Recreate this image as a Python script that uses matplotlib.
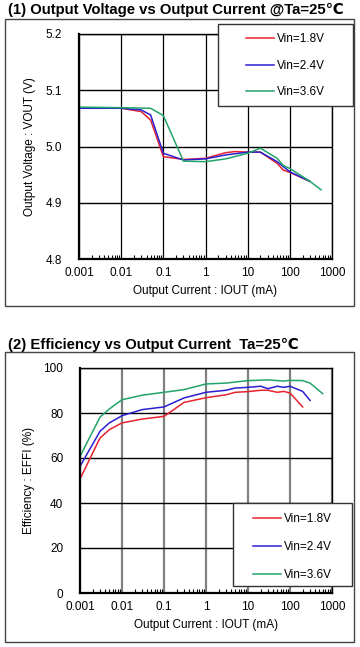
import matplotlib
matplotlib.use("Agg")
import matplotlib.pyplot as plt
from matplotlib.patches import Rectangle
from matplotlib.ticker import FixedLocator, LogLocator, NullFormatter

plt.rcParams['font.family'] = ['Liberation Sans', 'DejaVu Sans']

# data
series_names = ["Vin=1.8V", "Vin=2.4V", "Vin=3.6V"]
series_colors = ["#e8232f", "#2a1fd0", "#22a36a"]

vout_i_18 = [0.001, 0.01, 0.03, 0.05, 0.1, 0.3, 1, 3, 5, 10, 20, 50, 70, 100, 300]
vout_18 = [5.068, 5.068, 5.062, 5.047, 4.982, 4.977, 4.979, 4.989, 4.991, 4.990, 4.990, 4.970, 4.958, 4.954, 4.938]
vout_i_24 = [0.001, 0.01, 0.03, 0.05, 0.1, 0.3, 1, 3, 10, 20, 50, 100, 300]
vout_24 = [5.068, 5.068, 5.065, 5.056, 4.988, 4.976, 4.978, 4.985, 4.990, 4.990, 4.973, 4.955, 4.938]
vout_i_36 = [0.001, 0.01, 0.05, 0.1, 0.3, 1, 3, 10, 20, 50, 70, 100, 300, 550]
vout_36 = [5.070, 5.069, 5.068, 5.055, 4.974, 4.973, 4.978, 4.988, 4.997, 4.979, 4.966, 4.961, 4.938, 4.923]

eff_i_18 = [0.001, 0.003, 0.005, 0.01, 0.03, 0.1, 0.3, 1, 3, 5, 10, 20, 30, 50, 70, 100, 200]
eff_18 = [50.7, 68.9, 72.6, 75.6, 77.3, 78.5, 84.7, 86.8, 88.1, 89.2, 89.5, 90.1, 90.1, 89.2, 89.6, 88.9, 82.7]
eff_i_24 = [0.001, 0.003, 0.005, 0.01, 0.03, 0.1, 0.3, 1, 3, 5, 10, 20, 30, 50, 70, 100, 200, 300]
eff_24 = [56.3, 71.9, 75.6, 78.8, 81.5, 82.7, 86.7, 89.2, 90.1, 91.1, 91.4, 91.9, 90.8, 91.9, 91.4, 91.9, 89.6, 85.6]
eff_i_36 = [0.001, 0.003, 0.005, 0.01, 0.03, 0.1, 0.3, 1, 3, 10, 30, 70, 100, 200, 300, 600]
eff_36 = [60.7, 78.2, 81.8, 85.9, 87.9, 89.2, 90.4, 92.9, 93.3, 94.4, 94.7, 94.2, 94.5, 94.4, 93.3, 88.6]

x_ticks = [0.001, 0.01, 0.1, 1, 10, 100, 1000]
x_tick_labels = ["0.001", "0.01", "0.1", "1", "10", "100", "1000"]
vout_ticks = [4.8, 4.9, 5.0, 5.1, 5.2]
eff_ticks = [0, 20, 40, 60, 80, 100]

W, H = 360, 647
fig = plt.figure(figsize=(W / 100, H / 100), dpi=100)


def fx(px):
    return px / W


def fy(py):
    return 1 - py / H


def box(x0, y0, x1, y1, **kw):
    r = Rectangle((fx(x0), fy(y1)), fx(x1) - fx(x0), fy(y0) - fy(y1),
                  transform=fig.transFigure, **kw)
    fig.patches.append(r)
    return r


def setup_axes(ax, vgrid_color, vgrid_lw):
    ax.set_xscale("log")
    ax.set_xlim(0.001, 1000)
    ax.xaxis.set_major_locator(FixedLocator(x_ticks))
    ax.set_xticklabels(x_tick_labels)
    ax.xaxis.set_minor_locator(LogLocator(base=10, subs=range(2, 10), numticks=20))
    ax.xaxis.set_minor_formatter(NullFormatter())
    ax.tick_params(axis="x", which="minor", direction="in", length=3, width=0.8, color="black")
    ax.tick_params(axis="both", which="major", length=0, labelsize=8.5)
    ax.tick_params(axis="x", which="major", pad=6)
    ax.tick_params(axis="y", which="major", pad=12)
    ax.grid(True, axis="x", which="major", color=vgrid_color, lw=vgrid_lw)
    ax.grid(True, axis="y", which="major", color="black", lw=1.0)
    for s in ax.spines.values():
        s.set_color("black")
        s.set_linewidth(1.0)
    ax.spines["left"].set_linewidth(1.6)
    ax.spines["bottom"].set_linewidth(1.6)
    ax.set_xlabel("Output Current : IOUT (mA)", fontsize=8.5, labelpad=4)


def add_legend(ax, x0, y0, x1, y1, hx, hy, spacing):
    box(x0, y0, x1, y1, facecolor="white", edgecolor="#333333", lw=1.0, zorder=5)
    leg = fig.legend(handles=ax.get_lines(), labels=series_names, loc="upper left",
                     bbox_to_anchor=(fx(hx), fy(hy)), frameon=False, fontsize=8.5,
                     borderpad=0, handlelength=2.4, handletextpad=0.25, labelspacing=spacing)
    leg.set_zorder(6)


# outer frames
box(5, 19, 354, 306, fill=False, edgecolor="#444444", lw=1.0)
box(5, 352, 354, 642, fill=False, edgecolor="#444444", lw=1.0)

# (1) output voltage
ax1 = fig.add_axes([fx(79), fy(259), fx(332) - fx(79), fy(34) - fy(259)])
setup_axes(ax1, "black", 0.9)
ax1.plot(vout_i_18, vout_18, color=series_colors[0], lw=1.1)
ax1.plot(vout_i_24, vout_24, color=series_colors[1], lw=1.1)
ax1.plot(vout_i_36, vout_36, color=series_colors[2], lw=1.1)
ax1.set_ylim(4.8, 5.2)
ax1.set_yticks(vout_ticks)
ax1.set_yticklabels([f"{v:.1f}" for v in vout_ticks])
ax1.set_ylabel("Output Voltage : VOUT (V)", fontsize=8.5, labelpad=7)
fig.text(fx(8), fy(10), "(1) Output Voltage vs Output Current @Ta=25\u2103",
         fontsize=10.7, fontweight="bold", va="center", ha="left")
add_legend(ax1, 218, 24, 353, 106, 240, 27, 1.25)

# (2) efficiency
ax2 = fig.add_axes([fx(80), fy(593), fx(332) - fx(80), fy(368) - fy(593)])
setup_axes(ax2, "#808080", 1.6)
ax2.plot(eff_i_18, eff_18, color=series_colors[0], lw=1.1)
ax2.plot(eff_i_24, eff_24, color=series_colors[1], lw=1.1)
ax2.plot(eff_i_36, eff_36, color=series_colors[2], lw=1.1)
ax2.set_ylim(0, 100)
ax2.set_yticks(eff_ticks)
ax2.set_ylabel("Efficiency : EFFI (%)", fontsize=8.5, labelpad=6)
fig.text(fx(8), fy(345), "(2) Efficiency vs Output Current  Ta=25\u2103",
         fontsize=10.7, fontweight="bold", va="center", ha="left")
add_legend(ax2, 233, 503, 352, 586, 247, 507, 1.35)

fig.savefig("out.png", dpi=100)
